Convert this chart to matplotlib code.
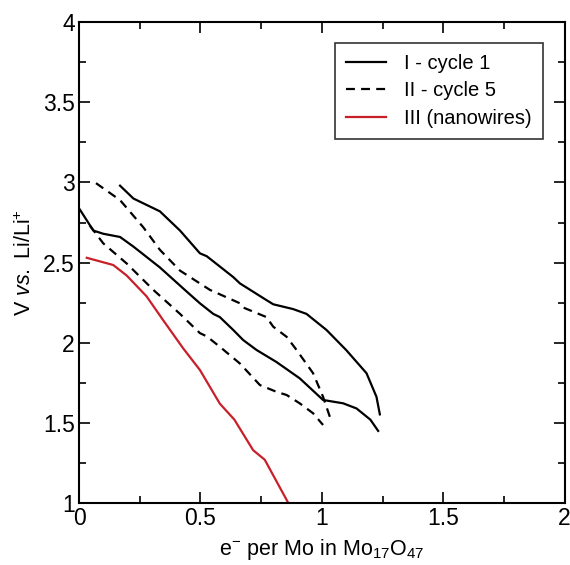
import numpy as np
import matplotlib
matplotlib.use("Agg")
import matplotlib.pyplot as plt
from matplotlib.ticker import MultipleLocator

plt.rcParams['font.family'] = ['Liberation Sans', 'DejaVu Sans']
plt.rcParams['mathtext.fontset'] = 'custom'
plt.rcParams['mathtext.rm'] = 'Liberation Sans'
plt.rcParams['mathtext.it'] = 'Liberation Sans:italic'

# cycle 1: discharge and charge branches
c1_dis_x = [0.004, 0.059, 0.10, 0.169, 0.224, 0.333, 0.443, 0.498, 0.553, 0.58, 0.635,
            0.676, 0.731, 0.813, 0.909, 1.005, 1.088, 1.143, 1.20, 1.232]
c1_dis_y = [2.83, 2.70, 2.68, 2.66, 2.60, 2.47, 2.32, 2.246, 2.18, 2.16, 2.08,
            2.017, 1.955, 1.88, 1.778, 1.643, 1.622, 1.59, 1.52, 1.45]
c1_chg_x = [1.239, 1.225, 1.184, 1.10, 1.019, 0.937, 0.882, 0.80, 0.772, 0.663, 0.635,
            0.526, 0.498, 0.416, 0.333, 0.292, 0.224, 0.169]
c1_chg_y = [1.553, 1.663, 1.81, 1.955, 2.08, 2.18, 2.21, 2.24, 2.266, 2.37, 2.41,
            2.54, 2.558, 2.70, 2.82, 2.85, 2.90, 2.98]

# cycle 5: discharge and charge branches
c5_dis_x = [0.045, 0.10, 0.196, 0.306, 0.416, 0.498, 0.526, 0.58, 0.663, 0.745, 0.813,
            0.855, 0.909, 0.964, 1.005]
c5_dis_y = [2.73, 2.62, 2.495, 2.33, 2.18, 2.06, 2.04, 1.975, 1.87, 1.736, 1.694,
            1.674, 1.622, 1.56, 1.487]
c5_chg_x = [1.033, 1.005, 0.964, 0.896, 0.855, 0.80, 0.772, 0.676, 0.663, 0.539, 0.498,
            0.416, 0.333, 0.265, 0.169, 0.066]
c5_chg_y = [1.538, 1.663, 1.81, 1.955, 2.037, 2.10, 2.16, 2.22, 2.246, 2.33, 2.37,
            2.45, 2.58, 2.72, 2.89, 3.0]

# nanowires discharge
nw_x = [0.032, 0.141, 0.196, 0.278, 0.347, 0.429, 0.498, 0.58, 0.64, 0.717, 0.765, 0.862]
nw_y = [2.53, 2.485, 2.42, 2.29, 2.14, 1.965, 1.83, 1.62, 1.52, 1.33, 1.27, 1.0]

xticks = [0, 0.5, 1, 1.5, 2]
xtick_labels = ['0', '0.5', '1', '1.5', '2']
yticks = [1, 1.5, 2, 2.5, 3, 3.5, 4]
ytick_labels = ['1', '1.5', '2', '2.5', '3', '3.5', '4']

fig = plt.figure(figsize=(5.7, 5.65), dpi=100)
ax = fig.add_axes([0.1386, 0.1097, 0.852, 0.851])

dash = (0, (4, 2.8))
ax.plot(c1_dis_x, c1_dis_y, color='black', lw=1.6, label='I - cycle 1')
ax.plot(c1_chg_x, c1_chg_y, color='black', lw=1.6)
ax.plot(c5_dis_x, c5_dis_y, color='black', lw=1.6, ls=dash, label='II - cycle 5')
ax.plot(c5_chg_x, c5_chg_y, color='black', lw=1.6, ls=dash)
ax.plot(nw_x, nw_y, color='#c8202a', lw=1.6, label='III (nanowires)')

ax.set_xlim(0, 2)
ax.set_ylim(1, 4)
ax.set_xticks(xticks)
ax.set_xticklabels(xtick_labels)
ax.set_yticks(yticks)
ax.set_yticklabels(ytick_labels)
ax.xaxis.set_minor_locator(MultipleLocator(0.25))
ax.yaxis.set_minor_locator(MultipleLocator(0.25))
ax.tick_params(which='both', direction='in', top=True, right=True, width=1.2,
               labelsize=16.5, pad=3)
ax.tick_params(which='major', length=8)
ax.tick_params(which='minor', length=5)
for s in ax.spines.values():
    s.set_linewidth(1.5)

ax.set_xlabel(r'e$^{-}$ per Mo in Mo$_{17}$O$_{47}$', fontsize=15.5, labelpad=5)
ax.set_ylabel(r'V $\mathit{vs.}$ Li/Li$^{+}$', fontsize=15.5, labelpad=5)

leg = ax.legend(loc='upper right', bbox_to_anchor=(0.955, 0.957), borderaxespad=0,
                fontsize=14.5, frameon=True, fancybox=False, handlelength=2.0,
                borderpad=0.55, labelspacing=0.42, handletextpad=0.9)
leg.get_frame().set_edgecolor('black')
leg.get_frame().set_linewidth(1.2)

fig.savefig('out.png', dpi=100)
